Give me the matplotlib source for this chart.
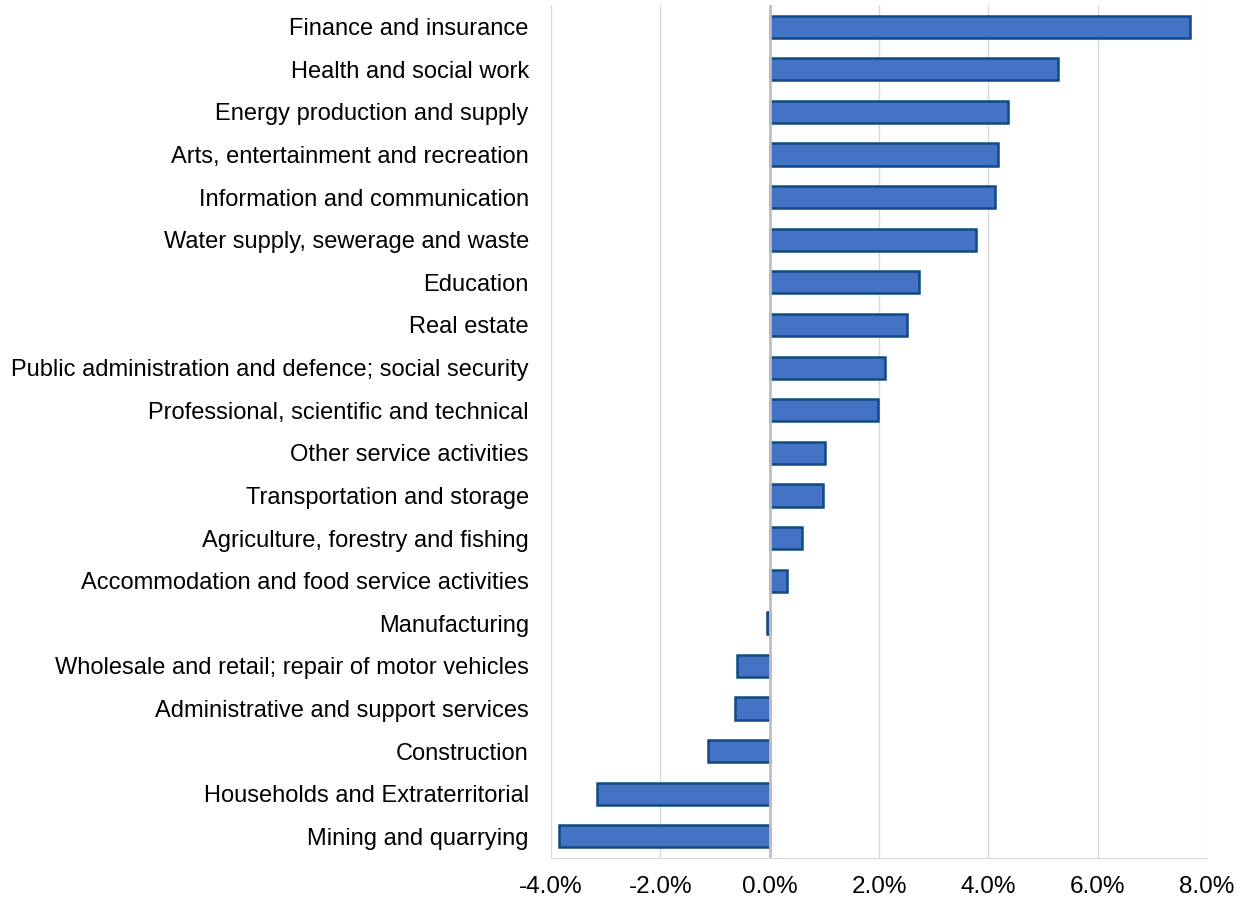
import matplotlib.pyplot as plt
import matplotlib.ticker as mtick

plt.rcParams['font.family'] = ['Liberation Sans', 'DejaVu Sans']

# sectors, top to bottom
sectors = ["Finance and insurance", "Health and social work", "Energy production and supply",
           "Arts, entertainment and recreation", "Information and communication",
           "Water supply, sewerage and waste", "Education", "Real estate",
           "Public administration and defence; social security",
           "Professional, scientific and technical", "Other service activities",
           "Transportation and storage", "Agriculture, forestry and fishing",
           "Accommodation and food service activities", "Manufacturing",
           "Wholesale and retail; repair of motor vehicles",
           "Administrative and support services", "Construction",
           "Households and Extraterritorial", "Mining and quarrying"]
growth = [7.68, 5.27, 4.35, 4.17, 4.12, 3.77, 2.73, 2.52, 2.10, 1.98,
          1.02, 0.97, 0.59, 0.31, -0.05, -0.59, -0.64, -1.13, -3.15, -3.86]

fig = plt.figure(figsize=(12.43, 8.99), dpi=100)
ax = fig.add_axes([0.4433, 0.046, 0.5278, 0.948])

y = list(range(len(sectors)))
ax.barh(y, growth, height=0.52, color='#4472C4', edgecolor='#0E4A84', linewidth=1.8, zorder=3)
ax.set_yticks(y)
ax.set_yticklabels(sectors, fontsize=17)
ax.set_ylim(len(sectors) - 0.5, -0.5)

ax.set_xlim(-4, 8)
ax.set_xticks([-4, -2, 0, 2, 4, 6, 8])
ax.xaxis.set_major_formatter(mtick.FuncFormatter(lambda v, p: f"{v:.1f}%"))
ax.tick_params(axis='x', labelsize=17.5, length=0, pad=13)
ax.tick_params(axis='y', length=0, pad=16)

ax.grid(axis='x', color='#D9D9D9', linewidth=1, zorder=0)
ax.axvline(0, color='#BFBFBF', linewidth=2, zorder=4)
for s in ['top', 'right', 'left']:
    ax.spines[s].set_visible(False)
ax.spines['bottom'].set_color('#D9D9D9')

fig.savefig('out.png', dpi=100)
